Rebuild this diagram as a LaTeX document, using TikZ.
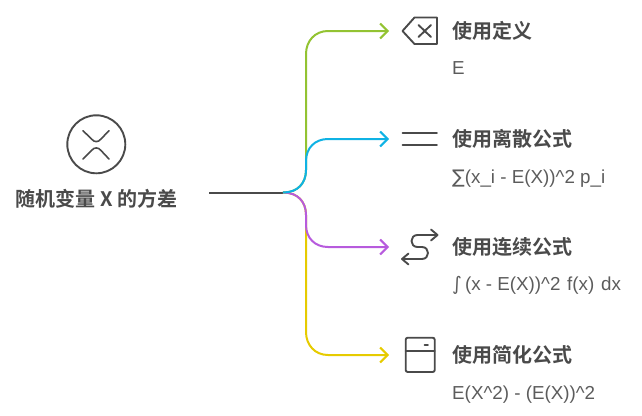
\documentclass[tikz,border=0pt]{standalone}
\usepackage{fontspec}
\usetikzlibrary{arrows.meta}
\setmainfont{Liberation Sans}
\newfontfamily\cjkbold[BoldFont={Noto Sans CJK SC Bold}]{Noto Sans CJK SC}
\newfontfamily\symfont{DejaVu Sans}
\definecolor{ink}{HTML}{4A4A4A}
\definecolor{cgreen}{HTML}{93C332}
\definecolor{cblue}{HTML}{0FB2E4}
\definecolor{cpurple}{HTML}{B75BDD}
\definecolor{cyellow}{HTML}{E6CB00}
\tikzset{
  x=1pt,y=-1pt,
  headtext/.style={anchor=base west,inner sep=0pt,text=ink,font={\fontsize{20}{20}\cjkbold\bfseries}},
  bodytext/.style={anchor=base west,inner sep=0pt,text=ink!90,font={\fontsize{18.8}{20}\selectfont}},
  icon/.style={draw=ink,line width=1.9pt,line cap=round,line join=round},
  conn/.style={line width=2pt,-{Straight Barb[length=7.5pt,width=15pt,line width=2pt]}},
}
\begin{document}
\begin{tikzpicture}
\useasboundingbox (0,0) rectangle (642,415);
% main icon
\node[circle,draw=ink,line width=1.9pt,minimum size=58pt,inner sep=0pt] (mainicon) at (96.3,144.3) {};
\draw[icon,line width=1.6pt] (83,130.7) -- (91.5,139) .. controls (94.5,142.5) and (98,142.5) .. (101,139) -- (109,130.7);
\draw[icon,line width=1.6pt] (83,159) -- (91.5,150.5) .. controls (94.5,147) and (98,147) .. (101,150.5) -- (109,159);
\node[headtext] (title) at (15.5,206) {随机变量 X 的方差};
% connector points
\coordinate (start) at (209,192.5);
\coordinate (hub) at (283,192.5);
\coordinate (t1) at (389,31);
\coordinate (t2) at (389,139);
\coordinate (t3) at (389,247);
\coordinate (t4) at (389,355);
% connectors
\draw[ink,line width=2pt] (start) -- (hub);
\draw[conn,cyellow] (hub) .. controls (298,192.5) and (306,202) .. (306,215) -- (306,332) .. controls (306,345) and (315,355) .. (328,355) -- (t4);
\draw[conn,cpurple] (hub) .. controls (298,192.5) and (306,202) .. (306,215) -- (306,225) .. controls (306,238) and (315,247) .. (328,247) -- (t3);
\draw[conn,cgreen] (hub) .. controls (298,192.5) and (306,183) .. (306,170) -- (306,54) .. controls (306,41) and (315,31) .. (328,31) -- (t1);
\draw[conn,cblue] (hub) .. controls (298,192.5) and (306,183) .. (306,170) -- (306,161) .. controls (306,148) and (315,139) .. (328,139) -- (t2);
% icon 1
\draw[icon] (402.5,31) -- (414.5,17.5) -- (437,17.5) -- (437,44) -- (414.5,44) -- cycle;
\draw[icon] (418.5,25) -- (431,37) (431,25) -- (418.5,37);
% icon 2
\draw[icon] (402.5,132.7) -- (437,132.7) (402.5,145) -- (437,145);
% icon 3
\draw[icon] (437,235) -- (417.5,235) .. controls (409.5,235) and (409.5,247) .. (417.5,247) -- (422,247) .. controls (430,247) and (430,259) .. (422,259) -- (402.5,259);
\draw[icon] (431,229.5) -- (437.5,235) -- (431,240.5);
\draw[icon] (408.5,253.5) -- (402,259) -- (408.5,264.5);
% icon 4
\draw[icon,rounded corners=2pt] (405.7,337.7) rectangle (434.7,372);
\draw[icon] (405.7,350.7) -- (434.7,350.7);
\draw[icon] (424.5,344.7) -- (428,344.7);
% text
\node[headtext] (h1) at (452,38.5) {使用定义};
\node[bodytext] (b1) at (452,74) {E};
\node[headtext] (h2) at (452,146) {使用离散公式};
\node[bodytext] (b2) at (452,183) {{\symfont ∑}(x\_i - E(X))\textasciicircum 2 p\_i};
\node[headtext] (h3) at (452,254) {使用连续公式};
\node[bodytext] (b3) at (452,290) {{\symfont ∫}\hspace{3pt}(x - E(X))\textasciicircum 2\hspace{1.5pt} f(x)\hspace{1.5pt} dx};
\node[headtext] (h4) at (452,362.5) {使用简化公式};
\node[bodytext] (b4) at (452,399) {E(X\textasciicircum 2) - (E(X))\textasciicircum 2};
\end{tikzpicture}
\end{document}
